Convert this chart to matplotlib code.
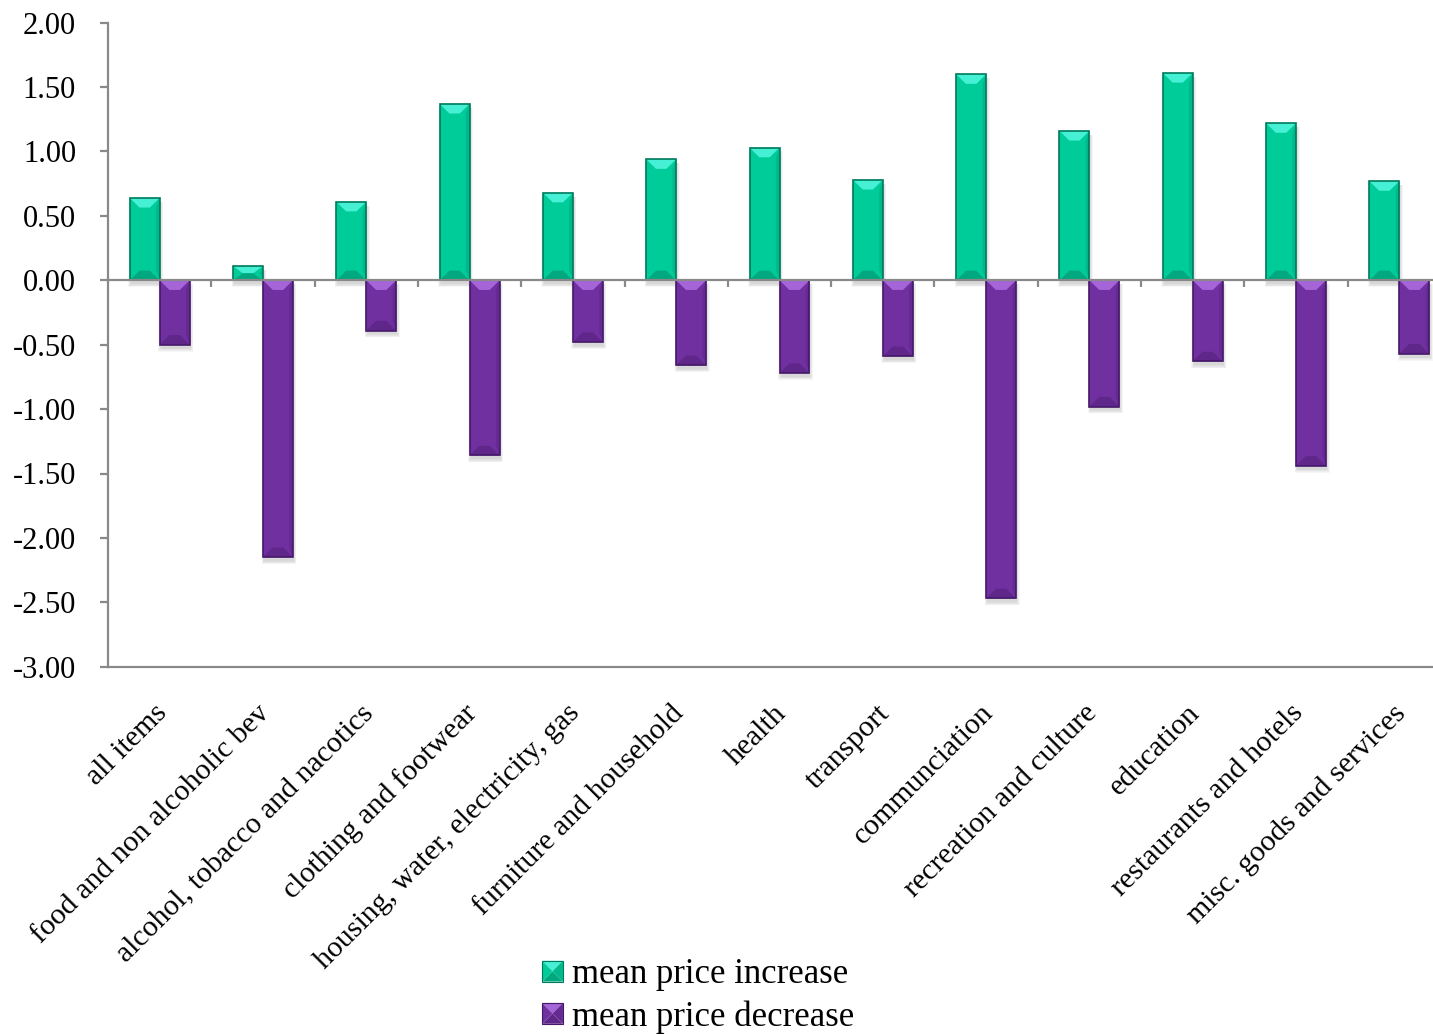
import numpy as np
import matplotlib.pyplot as plt
from matplotlib.patches import Polygon, Rectangle
from matplotlib.legend_handler import HandlerBase
from matplotlib.transforms import blended_transform_factory

plt.rcParams['font.family'] = ['Liberation Serif', 'DejaVu Serif']
plt.rcParams['axes.unicode_minus'] = False

categories = ['all items', 'food and non alcoholic bev', 'alcohol, tobacco and nacotics',
              'clothing and footwear', 'housing, water, electricity, gas',
              'furniture and household', 'health', 'transport', 'communciation',
              'recreation and culture', 'education', 'restaurants and hotels',
              'misc. goods and services']
increase = [0.64, 0.11, 0.61, 1.37, 0.68, 0.94, 1.03, 0.78, 1.60, 1.16, 1.61, 1.22, 0.77]
decrease = [-0.50, -2.15, -0.39, -1.36, -0.48, -0.66, -0.72, -0.59, -2.47, -0.98, -0.63, -1.44, -0.57]

GREEN = dict(face='#00cc99', light='#45f0d4', dark='#00a880', side='#00b88b', edge='#007a5c')
PURPLE = dict(face='#7030a0', light='#a565d8', dark='#5e2789', side='#652a92', edge='#45196a')
AXIS = '#898989'


def bevel_bar(ax, x0, w, v, c):
    lo, hi = min(0, v), max(0, v)
    x1 = x0 + w
    bw = 0.095
    bh = min(0.075, (hi - lo) / 2)
    # soft drop shadow
    for k in range(5):
        ax.add_patch(Rectangle((x0 + 0.01 - k * 0.006, lo - 0.03 - k * 0.006),
                               w + k * 0.012, hi - lo + k * 0.006,
                               color='#606060', alpha=0.05, lw=0, zorder=1))
    facets = [
        ([(x0, hi), (x1, hi), (x1 - bw, hi - bh), (x0 + bw, hi - bh)], c['light']),
        ([(x0, lo), (x1, lo), (x1 - bw, lo + bh), (x0 + bw, lo + bh)], c['dark']),
        ([(x1, lo), (x1, hi), (x1 - 0.035, hi - bh), (x1 - 0.035, lo + bh)], c['side']),
    ]
    for pts, col in facets:
        ax.add_patch(Polygon(pts, closed=True, color=col, lw=0, zorder=3))
    ax.add_patch(Rectangle((x0, lo), w, hi - lo, fill=False, ec=c['edge'], lw=1.2, zorder=4))


class BevelHandler(HandlerBase):
    def __init__(self, c):
        super().__init__()
        self.c = c

    def create_artists(self, legend, orig_handle, xdescent, ydescent, width, height,
                       fontsize, trans):
        s = min(width, height)
        x0 = -xdescent + (width - s) / 2
        y0 = -ydescent + (height - s) / 2
        cx, cy = x0 + s / 2, y0 + s / 2
        x1, y1 = x0 + s, y0 + s
        c = self.c
        tris = [
            ([(x0, y1), (x1, y1), (cx, cy)], c['light']),
            ([(x0, y0), (x1, y0), (cx, cy)], c['dark']),
            ([(x0, y0), (x0, y1), (cx, cy)], c['face']),
            ([(x1, y0), (x1, y1), (cx, cy)], c['side']),
        ]
        arts = []
        for pts, col in tris:
            p = Polygon(pts, closed=True, facecolor=col, edgecolor='none', transform=trans)
            arts.append(p)
        arts.append(Rectangle((x0, y0), s, s, fill=False, ec=c['edge'], lw=0.8,
                              transform=trans))
        return arts


fig = plt.figure(figsize=(14.33, 10.34), dpi=100)
ax = fig.add_axes([108 / 1433, 1 - 666.7 / 1034, 1343 / 1433, 644 / 1034])

x = np.arange(len(categories)) + 0.5
w = 0.29
b_inc = ax.bar(x - w, increase, width=w, align='edge', color=GREEN['face'], lw=0, zorder=2)
b_dec = ax.bar(x, decrease, width=w, align='edge', color=PURPLE['face'], lw=0, zorder=2)
for xi, v in zip(x, increase):
    bevel_bar(ax, xi - w, w, v, GREEN)
for xi, v in zip(x, decrease):
    bevel_bar(ax, xi, w, v, PURPLE)

ax.set_xlim(0, len(categories))
ax.set_ylim(-3, 2)
ax.set_yticks(np.arange(-3, 2.01, 0.5))
ax.yaxis.set_major_formatter(plt.FormatStrFormatter('%.2f'))
ax.set_xticks(np.arange(1, len(categories)))
ax.set_xticklabels([])

for s in ['top', 'right']:
    ax.spines[s].set_visible(False)
ax.spines['left'].set_color(AXIS)
ax.spines['left'].set_linewidth(1.6)
ax.spines['bottom'].set_position(('data', 0))
ax.spines['bottom'].set_color(AXIS)
ax.spines['bottom'].set_linewidth(1.6)
ax.spines['bottom'].set_zorder(5)
ax.axhline(-3, color=AXIS, lw=1.6, clip_on=False, zorder=5)

ax.tick_params(axis='y', direction='out', length=6, width=1.6, color=AXIS,
               labelsize=22, pad=17)
ax.tick_params(axis='x', direction='out', length=5, width=1.6, color=AXIS)

trans = blended_transform_factory(ax.transData, ax.transAxes)
for xi, lab in zip(x, categories):
    ax.text(xi + 0.03, -0.066, lab, rotation=45, rotation_mode='anchor',
            ha='right', va='center', fontsize=21.5, transform=trans)

fig.legend([b_inc, b_dec], ['mean price increase', 'mean price decrease'],
           handler_map={b_inc: BevelHandler(GREEN), b_dec: BevelHandler(PURPLE)},
           loc='center', bbox_to_anchor=(698 / 1433, 1 - 996 / 1034), frameon=False,
           fontsize=25, handlelength=0.6, handleheight=0.6, handletextpad=0.25,
           labelspacing=0.25, borderpad=0)

fig.savefig('out.png', dpi=100)
